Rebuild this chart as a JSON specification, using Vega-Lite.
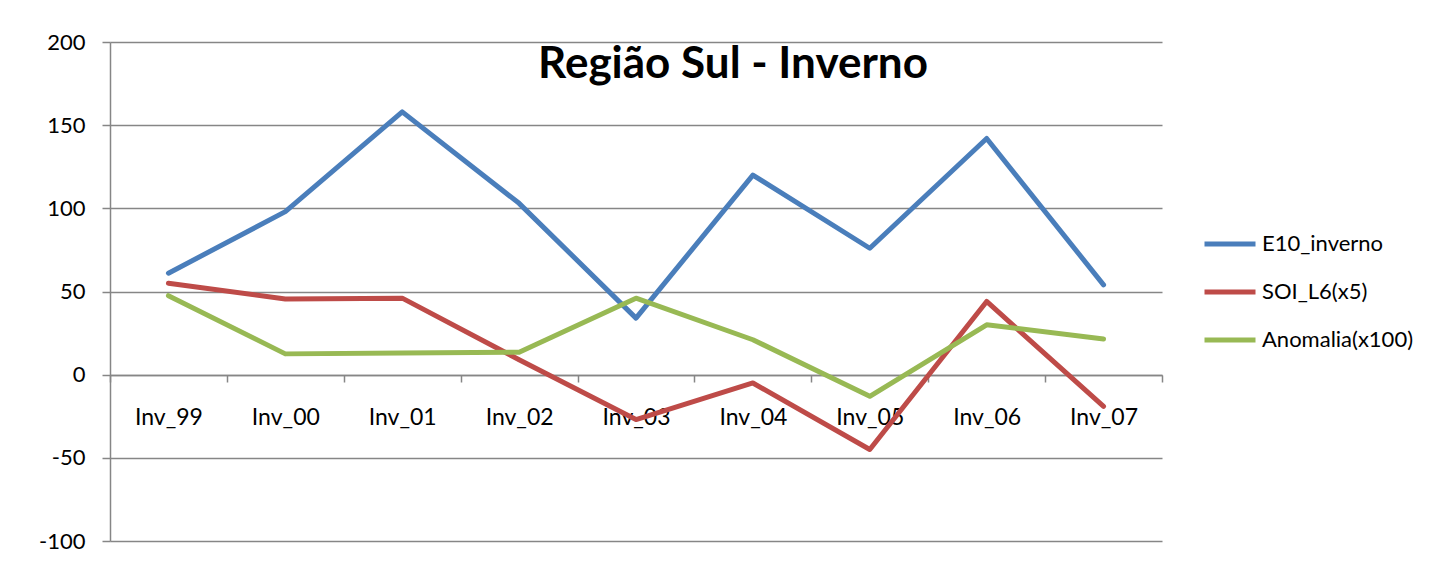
{
  "$schema": "https://vega.github.io/schema/vega-lite/v6.json",
  "width": 1052,
  "height": 499,
  "autosize": {"type": "none"},
  "padding": {"left": 110, "top": 42, "right": 290, "bottom": 23},
  "background": "white",
  "title": {
    "text": "Região Sul - Inverno",
    "font": "Lato",
    "fontSize": 44,
    "fontWeight": "bold",
    "color": "#000000",
    "anchor": "middle",
    "baseline": "alphabetic",
    "dx": 97,
    "dy": 53,
    "offset": -38
  },
  "config": {
    "view": {"stroke": null},
    "font": "Lato"
  },
  "data": {
    "values": [
      {"cat": "Inv_99", "series": "E10_inverno", "value": 61},
      {"cat": "Inv_00", "series": "E10_inverno", "value": 98},
      {"cat": "Inv_01", "series": "E10_inverno", "value": 158},
      {"cat": "Inv_02", "series": "E10_inverno", "value": 103},
      {"cat": "Inv_03", "series": "E10_inverno", "value": 34},
      {"cat": "Inv_04", "series": "E10_inverno", "value": 120},
      {"cat": "Inv_05", "series": "E10_inverno", "value": 76},
      {"cat": "Inv_06", "series": "E10_inverno", "value": 142},
      {"cat": "Inv_07", "series": "E10_inverno", "value": 54},
      {"cat": "Inv_99", "series": "SOI_L6(x5)", "value": 55},
      {"cat": "Inv_00", "series": "SOI_L6(x5)", "value": 45.5},
      {"cat": "Inv_01", "series": "SOI_L6(x5)", "value": 46},
      {"cat": "Inv_02", "series": "SOI_L6(x5)", "value": 9},
      {"cat": "Inv_03", "series": "SOI_L6(x5)", "value": -27},
      {"cat": "Inv_04", "series": "SOI_L6(x5)", "value": -5},
      {"cat": "Inv_05", "series": "SOI_L6(x5)", "value": -45},
      {"cat": "Inv_06", "series": "SOI_L6(x5)", "value": 44},
      {"cat": "Inv_07", "series": "SOI_L6(x5)", "value": -19},
      {"cat": "Inv_99", "series": "Anomalia(x100)", "value": 47.5},
      {"cat": "Inv_00", "series": "Anomalia(x100)", "value": 12.5},
      {"cat": "Inv_01", "series": "Anomalia(x100)", "value": 13},
      {"cat": "Inv_02", "series": "Anomalia(x100)", "value": 13.5},
      {"cat": "Inv_03", "series": "Anomalia(x100)", "value": 46},
      {"cat": "Inv_04", "series": "Anomalia(x100)", "value": 21},
      {"cat": "Inv_05", "series": "Anomalia(x100)", "value": -13},
      {"cat": "Inv_06", "series": "Anomalia(x100)", "value": 30},
      {"cat": "Inv_07", "series": "Anomalia(x100)", "value": 21.5}
    ]
  },
  "mark": {"type": "line", "strokeWidth": 5, "strokeCap": "round", "strokeJoin": "round"},
  "encoding": {
    "x": {
      "field": "cat",
      "type": "ordinal",
      "sort": null,
      "bandPosition": 0.5,
      "scale": {"type": "band", "paddingInner": 0, "paddingOuter": 0},
      "axis": {
        "title": null,
        "orient": "bottom",
        "offset": -166,
        "labelAngle": 0,
        "labelFont": "Lato",
        "labelFontSize": 23,
        "labelColor": "#000000",
        "labelPadding": 24,
        "tickBand": "extent",
        "tickSize": 7,
        "tickColor": "#868686",
        "tickWidth": 1.5,
        "domainColor": "#868686",
        "domainWidth": 1.5,
        "grid": false
      }
    },
    "y": {
      "field": "value",
      "type": "quantitative",
      "scale": {"domain": [-100, 200], "nice": false, "zero": false},
      "axis": {
        "title": null,
        "values": [-100, -50, 0, 50, 100, 150, 200],
        "labelExpr": "'' + datum.value",
        "labelFont": "Lato",
        "labelFontSize": 22,
        "labelColor": "#000000",
        "labelPadding": 17,
        "tickSize": 8,
        "tickColor": "#868686",
        "tickWidth": 1.5,
        "domainColor": "#868686",
        "domainWidth": 1.5,
        "grid": true,
        "gridColor": "#868686",
        "gridWidth": 1.5
      }
    },
    "color": {
      "field": "series",
      "type": "nominal",
      "scale": {
        "domain": ["E10_inverno", "SOI_L6(x5)", "Anomalia(x100)"],
        "range": ["#4A7EBB", "#BE4B48", "#98B954"]
      },
      "legend": {
        "title": null,
        "orient": "none",
        "legendX": 1092,
        "legendY": 174,
        "padding": 0,
        "symbolType": "stroke",
        "symbolSize": 2601,
        "symbolStrokeWidth": 5,
        "labelFont": "Lato",
        "labelFontSize": 22,
        "labelColor": "#000000",
        "labelOffset": 4,
        "rowPadding": 9,
        "labelLimit": 300
      }
    }
  }
}
